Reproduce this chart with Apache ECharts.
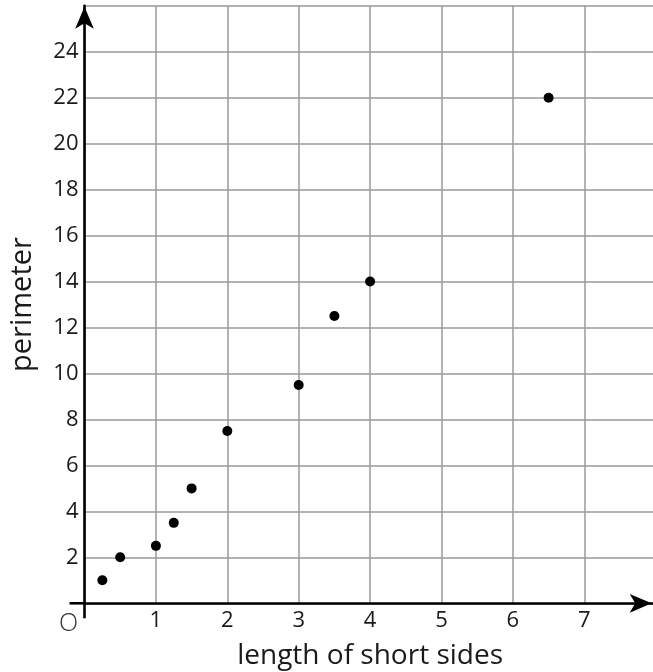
<!DOCTYPE html>
<html><head><meta charset="utf-8">
<script src="https://cdn.jsdelivr.net/npm/echarts@6/dist/echarts.min.js"></script>
<style>html,body{margin:0;padding:0;background:#fff}#c{width:653px;height:672px}</style>
</head><body><div id="c"></div>
<script>
var shortSides = [0.25, 0.5, 1, 1.25, 1.5, 2, 3, 3.5, 4, 6.5];
var perimeter  = [1, 2, 2.5, 3.5, 5, 7.5, 9.5, 12.5, 14, 22];
var xTickLabels = [1, 2, 3, 4, 5, 6, 7];
var yTickLabels = [2, 4, 6, 8, 10, 12, 14, 16, 18, 20, 22, 24];
var xName = 'length of short sides';
var yName = 'perimeter';
var originLabel = 'O';

var FONT = '"Open Sans", "Noto Sans", sans-serif';
var chart = echarts.init(document.getElementById('c'), null, {renderer: 'canvas'});
var pts = shortSides.map(function (x, i) { return [x, perimeter[i]]; });

chart.setOption({
  animation: false,
  grid: {left: 84.5, width: 571.2, top: 5.8, bottom: 68.7, containLabel: false, outerBoundsMode: 'none'},
  xAxis: {
    type: 'value', min: 0, max: 8, interval: 1,
    name: xName, nameLocation: 'middle', nameGap: 39,
    nameTextStyle: {fontFamily: FONT, fontSize: 28, color: '#1a1a1a'},
    axisLine: {show: true, onZero: false, lineStyle: {color: '#000', width: 2.6},
      symbol: ['none', 'arrow'], symbolSize: [14, 22], symbolOffset: [0, -4]},
    axisTick: {show: false},
    axisLabel: {fontFamily: FONT, fontSize: 22, color: '#1a1a1a', margin: 6,
      showMaxLabel: false,
      formatter: function (v) { return xTickLabels.indexOf(v) >= 0 ? String(v) : ''; }},
    splitLine: {show: true, lineStyle: {color: '#9a9a9a', width: 1.5}}
  },
  yAxis: {
    type: 'value', min: 0, max: 26, interval: 2,
    name: yName, nameLocation: 'middle', nameGap: 47,
    nameTextStyle: {fontFamily: FONT, fontSize: 29, color: '#1a1a1a'},
    axisLine: {show: true, onZero: false, lineStyle: {color: '#000', width: 2.6},
      symbol: ['none', 'arrow'], symbolSize: [14, 22], symbolOffset: [0, -1]},
    axisTick: {show: false},
    axisLabel: {fontFamily: FONT, fontSize: 22, color: '#1a1a1a', margin: 6,
      formatter: function (v) { return yTickLabels.indexOf(v) >= 0 ? String(v) : ''; }},
    splitLine: {show: true, lineStyle: {color: '#9a9a9a', width: 1.5}}
  },
  series: [{
    type: 'scatter', data: pts, symbol: 'circle', symbolSize: 10,
    itemStyle: {color: '#000', opacity: 1}, z: 5
  }]
});

var o = chart.convertToPixel({gridIndex: 0}, [0, 0]);
chart.setOption({
  graphic: [
    {type: 'line', shape: {x1: o[0] - 15, y1: o[1], x2: o[0], y2: o[1]},
     style: {stroke: '#000', lineWidth: 2.6}, z: 10},
    {type: 'line', shape: {x1: o[0], y1: o[1], x2: o[0], y2: o[1] + 15},
     style: {stroke: '#000', lineWidth: 2.6}, z: 10},
    {type: 'text', x: o[0] - 16, y: o[1] + 21,
     style: {text: originLabel, font: '300 25px ' + FONT, fill: '#333',
       align: 'center', verticalAlign: 'middle'}, z: 10}
  ]
});
</script>
</body></html>
